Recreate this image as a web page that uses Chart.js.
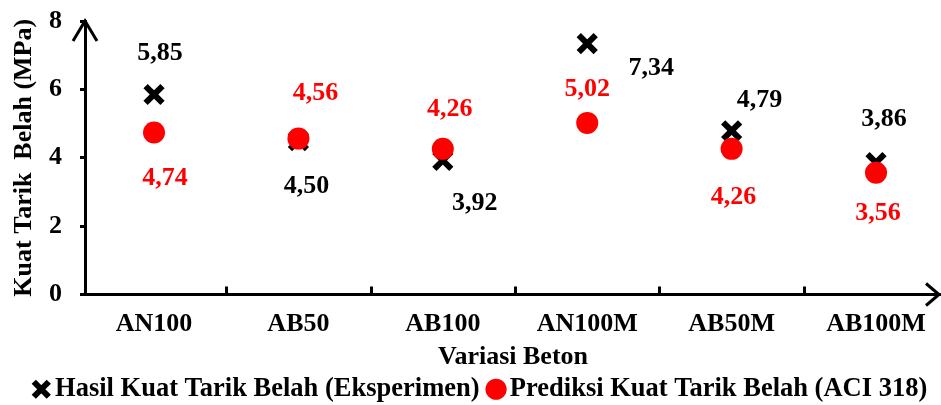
<!DOCTYPE html>
<html>
<head>
<meta charset="utf-8">
<script src="https://cdn.jsdelivr.net/npm/chart.js@4.4.1/dist/chart.umd.min.js"></script>
<style>
html, body { margin: 0; padding: 0; background: #ffffff; }
#wrap { width: 941px; height: 405px; }
</style>
</head>
<body>
<div id="wrap"><canvas id="c" width="941" height="405"></canvas></div>
<script>
// ---- data ----
const categories = ['AN100', 'AB50', 'AB100', 'AN100M', 'AB50M', 'AB100M'];
const eksperimen = [5.85, 4.50, 3.92, 7.34, 4.79, 3.86];
const prediksi = [4.74, 4.56, 4.26, 5.02, 4.26, 3.56];
const yTicks = [0, 2, 4, 6, 8];
const seriesNames = ['Hasil Kuat Tarik Belah (Eksperimen)', 'Prediksi Kuat Tarik Belah (ACI 318)'];
const xTitle = 'Variasi Beton';
const yTitle = 'Kuat Tarik  Belah (MPa)';

// ---- label placement (style, pixels relative to each point) ----
const eksLabelOffset = [[6, -41], [8, 46], [32, 43], [64, 25], [28, -30], [8, -43]];
const preLabelOffset = [[11, 46], [17, -45], [7, -40], [0, -34], [2, 48], [2, 40]];

const FONT = "'Liberation Serif', 'Times New Roman', serif";
Chart.defaults.font.family = FONT;
Chart.defaults.color = '#000';

const fmt = v => v.toFixed(2).replace('.', ',');

const decorPlugin = {
  id: 'decor',
  afterDraw(chart) {
    const ctx = chart.ctx;
    const {left, right, top, bottom} = chart.chartArea;
    const xs = chart.scales.x;
    ctx.save();
    ctx.strokeStyle = '#000';
    ctx.lineWidth = 3;
    ctx.lineJoin = 'miter';
    // tick marks between categories
    for (let i = 0; i < categories.length - 1; i++) {
      const px = Math.round(xs.getPixelForValue(i + 0.5)) + 0.5;
      ctx.beginPath();
      ctx.moveTo(px, bottom);
      ctx.lineTo(px, bottom - 8);
      ctx.stroke();
    }
    // arrow heads
    ctx.beginPath();
    ctx.moveTo(left - 12, top + 20);
    ctx.lineTo(left, top);
    ctx.lineTo(left + 12, top + 20);
    ctx.stroke();
    ctx.beginPath();
    ctx.moveTo(right - 15, bottom - 11);
    ctx.lineTo(right - 2, bottom);
    ctx.lineTo(right - 15, bottom + 11);
    ctx.stroke();
    ctx.restore();
  },
  afterDatasetsDraw(chart) {
    const ctx = chart.ctx;
    ctx.save();
    ctx.font = "bold 26px " + FONT;
    ctx.textAlign = 'center';
    ctx.textBaseline = 'middle';
    chart.data.datasets.forEach((ds, di) => {
      const meta = chart.getDatasetMeta(di);
      const offs = di === 0 ? eksLabelOffset : preLabelOffset;
      ctx.fillStyle = ds.labelColor;
      meta.data.forEach((el, i) => {
        const v = ds.data[i].y;
        ctx.fillText(fmt(v), el.x + offs[i][0], el.y + offs[i][1]);
      });
    });
    ctx.restore();
  }
};

const noPad = s => { s.paddingLeft = 0; s.paddingRight = 0; s.paddingTop = 0; s.paddingBottom = 0; };

new Chart(document.getElementById('c'), {
  type: 'scatter',
  data: {
    datasets: [
      {
        label: seriesNames[0],
        data: eksperimen.map((v, i) => ({x: i, y: v})),
        pointStyle: 'crossRot',
        pointRadius: 12,
        borderWidth: 6,
        borderColor: '#000000',
        backgroundColor: '#000000',
        labelColor: '#000000',
        order: 2
      },
      {
        label: seriesNames[1],
        data: prediksi.map((v, i) => ({x: i, y: v})),
        pointStyle: 'circle',
        pointRadius: 11,
        borderWidth: 0,
        borderColor: '#ff0000',
        backgroundColor: '#ff0000',
        labelColor: '#ff0000',
        order: 1
      }
    ]
  },
  options: {
    responsive: false,
    animation: false,
    events: [],
    layout: { autoPadding: false, padding: { left: 14, right: -13, top: 21, bottom: -7.5 } },
    scales: {
      x: {
        type: 'linear',
        min: -0.478,
        max: 5.45,
        afterBuildTicks: s => { s.ticks = categories.map((_, i) => ({value: i})); },
        afterFit: s => { s.height = 65.5; noPad(s); },
        ticks: {
          autoSkip: false,
          maxRotation: 0,
          padding: 14,
          color: '#000',
          font: { size: 26, weight: 'bold' },
          callback: v => categories[v]
        },
        grid: { display: false, drawTicks: false },
        border: { display: true, width: 3, color: '#000' },
        title: {
          display: true,
          text: xTitle,
          color: '#000',
          padding: 0,
          font: { size: 26, weight: 'bold', lineHeight: 0.23 }
        }
      },
      y: {
        min: 0,
        max: 8,
        afterBuildTicks: s => { s.ticks = yTicks.map(v => ({value: v})); },
        afterFit: s => { s.width = 71; noPad(s); },
        ticks: {
          padding: 18,
          color: '#000',
          font: { size: 26, weight: 'bold' },
          callback: v => String(v)
        },
        grid: {
          display: true,
          drawOnChartArea: false,
          drawTicks: true,
          tickLength: 5,
          tickWidth: 3,
          tickColor: '#000'
        },
        border: { display: true, width: 3, color: '#000' },
        title: {
          display: true,
          text: yTitle,
          color: '#000',
          padding: { top: 3.5, bottom: 0 },
          font: { size: 26, weight: 'bold', lineHeight: 0.5 }
        }
      }
    },
    plugins: {
      tooltip: { enabled: false },
      legend: {
        display: true,
        position: 'bottom',
        labels: {
          usePointStyle: true,
          boxWidth: 1,
          boxHeight: 15,
          padding: 16,
          color: '#000',
          font: { size: 26.5, weight: 'bold' },
          sort: (a, b) => a.datasetIndex - b.datasetIndex
        }
      }
    }
  },
  plugins: [decorPlugin]
});
</script>
</body>
</html>
